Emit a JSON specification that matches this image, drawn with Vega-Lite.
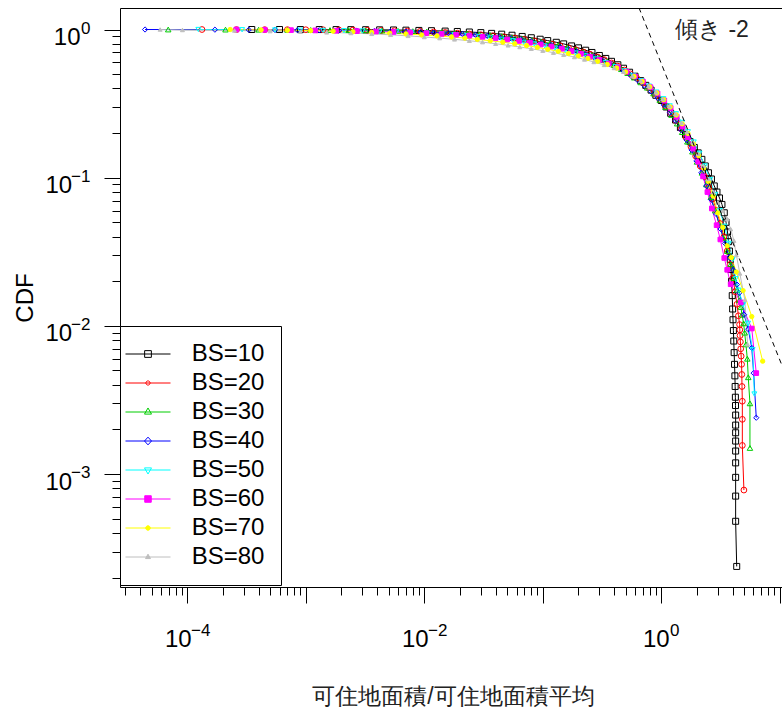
{
"$schema":"https://vega.github.io/schema/vega-lite/v6.json",
"width":662,"height":579,
"autosize":{"type":"none"},
"padding":{"left":120,"top":8,"right":0,"bottom":121},
"background":"white",
"data":{"values":[
{"s":10,"x":3.5e-4,"y":1},{"s":10,"x":6e-4,"y":0.9998},{"s":10,"x":9e-4,"y":0.9996},{"s":10,"x":1.3e-3,"y":0.9993},{"s":10,"x":1.8e-3,"y":0.999},{"s":10,"x":2.4e-3,"y":0.998},{"s":10,"x":3.2e-3,"y":0.997},{"s":10,"x":4.2e-3,"y":0.995},{"s":10,"x":5.5e-3,"y":0.993},{"s":10,"x":7e-3,"y":0.99},{"s":10,"x":9e-3,"y":0.986},{"s":10,"x":0.0115,"y":0.982},{"s":10,"x":0.015,"y":0.976},{"s":10,"x":0.019,"y":0.97},{"s":10,"x":0.024,"y":0.962},{"s":10,"x":0.03,"y":0.953},{"s":10,"x":0.037,"y":0.942},{"s":10,"x":0.045,"y":0.93},{"s":10,"x":0.055,"y":0.915},{"s":10,"x":0.067,"y":0.898},{"s":10,"x":0.08,"y":0.88},{"s":10,"x":0.095,"y":0.86},{"s":10,"x":0.11,"y":0.842},{"s":10,"x":0.13,"y":0.82},{"s":10,"x":0.15,"y":0.8},{"s":10,"x":0.175,"y":0.775},{"s":10,"x":0.2,"y":0.752},{"s":10,"x":0.23,"y":0.725},{"s":10,"x":0.26,"y":0.7},{"s":10,"x":0.3,"y":0.668},{"s":10,"x":0.34,"y":0.638},{"s":10,"x":0.38,"y":0.61},{"s":10,"x":0.43,"y":0.578},{"s":10,"x":0.48,"y":0.548},{"s":10,"x":0.54,"y":0.515},{"s":10,"x":0.6,"y":0.484},{"s":10,"x":0.67,"y":0.452},{"s":10,"x":0.74,"y":0.42},{"s":10,"x":0.82,"y":0.39},{"s":10,"x":0.9,"y":0.36},{"s":10,"x":1.0,"y":0.332},{"s":10,"x":1.1,"y":0.3},{"s":10,"x":1.2,"y":0.272},{"s":10,"x":1.32,"y":0.245},{"s":10,"x":1.45,"y":0.218},{"s":10,"x":1.6,"y":0.195},{"s":10,"x":1.75,"y":0.175},{"s":10,"x":1.9,"y":0.16},{"s":10,"x":2.05,"y":0.147},{"s":10,"x":2.2,"y":0.133},{"s":10,"x":2.35,"y":0.12},{"s":10,"x":2.5,"y":0.108},{"s":10,"x":2.65,"y":0.098},{"s":10,"x":2.8,"y":0.088},{"s":10,"x":2.95,"y":0.08},{"s":10,"x":3.1,"y":0.073},{"s":10,"x":3.25,"y":0.066},{"s":10,"x":3.4,"y":0.058},{"s":10,"x":3.52,"y":0.05},{"s":10,"x":3.62,"y":0.043},{"s":10,"x":3.7,"y":0.037},{"s":10,"x":3.76,"y":0.032},{"s":10,"x":3.82,"y":0.028},{"s":10,"x":3.87,"y":0.024},{"s":10,"x":3.92,"y":0.02},{"s":10,"x":3.97,"y":0.016},{"s":10,"x":4.0,"y":0.013},{"s":10,"x":4.03,"y":0.011},{"s":10,"x":4.06,"y":0.0093},{"s":10,"x":4.09,"y":0.0079},{"s":10,"x":4.12,"y":0.0066},{"s":10,"x":4.15,"y":0.0055},{"s":10,"x":4.18,"y":0.0046},{"s":10,"x":4.2,"y":0.0039},{"s":10,"x":4.22,"y":0.0033},{"s":10,"x":4.23,"y":0.0029},{"s":10,"x":4.24,"y":0.0025},{"s":10,"x":4.24,"y":0.00214},{"s":10,"x":4.24,"y":0.0019},{"s":10,"x":4.24,"y":0.00167},{"s":10,"x":4.24,"y":0.00143},{"s":10,"x":4.24,"y":0.00119},{"s":10,"x":4.24,"y":0.00095},{"s":10,"x":4.24,"y":0.00071},{"s":10,"x":4.24,"y":0.00048},{"s":10,"x":4.33,"y":0.000238},
{"s":20,"x":1.33e-4,"y":1},{"s":20,"x":2.6e-4,"y":0.9992},{"s":20,"x":4.5e-4,"y":0.9985},{"s":20,"x":7e-4,"y":0.998},{"s":20,"x":1.0e-3,"y":0.997},{"s":20,"x":1.4e-3,"y":0.996},{"s":20,"x":1.9e-3,"y":0.994},{"s":20,"x":2.5e-3,"y":0.992},{"s":20,"x":3.3e-3,"y":0.989},{"s":20,"x":4.3e-3,"y":0.986},{"s":20,"x":5.6e-3,"y":0.982},{"s":20,"x":7.2e-3,"y":0.977},{"s":20,"x":9.2e-3,"y":0.971},{"s":20,"x":0.012,"y":0.963},{"s":20,"x":0.015,"y":0.955},{"s":20,"x":0.019,"y":0.945},{"s":20,"x":0.024,"y":0.934},{"s":20,"x":0.03,"y":0.922},{"s":20,"x":0.038,"y":0.908},{"s":20,"x":0.047,"y":0.893},{"s":20,"x":0.058,"y":0.876},{"s":20,"x":0.07,"y":0.858},{"s":20,"x":0.085,"y":0.838},{"s":20,"x":0.1,"y":0.82},{"s":20,"x":0.12,"y":0.797},{"s":20,"x":0.14,"y":0.776},{"s":20,"x":0.165,"y":0.752},{"s":20,"x":0.19,"y":0.73},{"s":20,"x":0.22,"y":0.705},{"s":20,"x":0.25,"y":0.682},{"s":20,"x":0.29,"y":0.653},{"s":20,"x":0.33,"y":0.626},{"s":20,"x":0.38,"y":0.595},{"s":20,"x":0.43,"y":0.566},{"s":20,"x":0.49,"y":0.533},{"s":20,"x":0.55,"y":0.502},{"s":20,"x":0.62,"y":0.47},{"s":20,"x":0.7,"y":0.435},{"s":20,"x":0.78,"y":0.403},{"s":20,"x":0.87,"y":0.37},{"s":20,"x":0.97,"y":0.337},{"s":20,"x":1.08,"y":0.305},{"s":20,"x":1.2,"y":0.274},{"s":20,"x":1.33,"y":0.243},{"s":20,"x":1.47,"y":0.214},{"s":20,"x":1.62,"y":0.187},{"s":20,"x":1.78,"y":0.162},{"s":20,"x":1.95,"y":0.14},{"s":20,"x":2.13,"y":0.12},{"s":20,"x":2.32,"y":0.102},{"s":20,"x":2.52,"y":0.086},{"s":20,"x":2.72,"y":0.072},{"s":20,"x":2.93,"y":0.06},{"s":20,"x":3.15,"y":0.049},{"s":20,"x":3.38,"y":0.04},{"s":20,"x":3.6,"y":0.032},{"s":20,"x":3.82,"y":0.026},{"s":20,"x":4.02,"y":0.021},{"s":20,"x":4.2,"y":0.017},{"s":20,"x":4.35,"y":0.014},{"s":20,"x":4.48,"y":0.0117},{"s":20,"x":4.58,"y":0.0102},{"s":20,"x":4.6,"y":0.0094},{"s":20,"x":4.62,"y":0.0086},{"s":20,"x":4.65,"y":0.0078},{"s":20,"x":4.68,"y":0.007},{"s":20,"x":4.72,"y":0.00625},{"s":20,"x":4.76,"y":0.0055},{"s":20,"x":4.78,"y":0.0047},{"s":20,"x":4.8,"y":0.0039},{"s":20,"x":4.83,"y":0.0031},{"s":20,"x":4.83,"y":0.00234},{"s":20,"x":4.83,"y":0.00156},{"s":20,"x":4.98,"y":0.00078},
{"s":30,"x":6.9e-5,"y":1},{"s":30,"x":2.1e-4,"y":0.9985},{"s":30,"x":4e-4,"y":0.997},{"s":30,"x":7e-4,"y":0.9955},{"s":30,"x":1.1e-3,"y":0.994},{"s":30,"x":1.6e-3,"y":0.992},{"s":30,"x":2.3e-3,"y":0.99},{"s":30,"x":3.2e-3,"y":0.987},{"s":30,"x":4.4e-3,"y":0.984},{"s":30,"x":6e-3,"y":0.98},{"s":30,"x":8e-3,"y":0.975},{"s":30,"x":0.0105,"y":0.969},{"s":30,"x":0.014,"y":0.961},{"s":30,"x":0.018,"y":0.952},{"s":30,"x":0.023,"y":0.942},{"s":30,"x":0.029,"y":0.93},{"s":30,"x":0.036,"y":0.917},{"s":30,"x":0.045,"y":0.902},{"s":30,"x":0.055,"y":0.886},{"s":30,"x":0.067,"y":0.868},{"s":30,"x":0.081,"y":0.849},{"s":30,"x":0.097,"y":0.828},{"s":30,"x":0.115,"y":0.806},{"s":30,"x":0.135,"y":0.784},{"s":30,"x":0.16,"y":0.758},{"s":30,"x":0.19,"y":0.73},{"s":30,"x":0.22,"y":0.704},{"s":30,"x":0.26,"y":0.672},{"s":30,"x":0.3,"y":0.642},{"s":30,"x":0.35,"y":0.608},{"s":30,"x":0.4,"y":0.576},{"s":30,"x":0.46,"y":0.54},{"s":30,"x":0.52,"y":0.508},{"s":30,"x":0.59,"y":0.474},{"s":30,"x":0.67,"y":0.44},{"s":30,"x":0.76,"y":0.405},{"s":30,"x":0.86,"y":0.37},{"s":30,"x":0.97,"y":0.335},{"s":30,"x":1.09,"y":0.3},{"s":30,"x":1.22,"y":0.265},{"s":30,"x":1.36,"y":0.232},{"s":30,"x":1.5,"y":0.203},{"s":30,"x":1.66,"y":0.175},{"s":30,"x":1.83,"y":0.15},{"s":30,"x":2.0,"y":0.128},{"s":30,"x":2.2,"y":0.108},{"s":30,"x":2.4,"y":0.09},{"s":30,"x":2.62,"y":0.074},{"s":30,"x":2.85,"y":0.06},{"s":30,"x":3.1,"y":0.048},{"s":30,"x":3.35,"y":0.039},{"s":30,"x":3.6,"y":0.032},{"s":30,"x":3.85,"y":0.026},{"s":30,"x":4.1,"y":0.021},{"s":30,"x":4.35,"y":0.0175},{"s":30,"x":4.55,"y":0.0149},{"s":30,"x":4.7,"y":0.0134},{"s":30,"x":4.8,"y":0.0119},{"s":30,"x":4.95,"y":0.0104},{"s":30,"x":5.05,"y":0.009},{"s":30,"x":5.18,"y":0.0075},{"s":30,"x":5.32,"y":0.006},{"s":30,"x":5.42,"y":0.0045},{"s":30,"x":5.6,"y":0.003},{"s":30,"x":5.6,"y":0.0015},
{"s":40,"x":4.4e-5,"y":1},{"s":40,"x":1.71e-4,"y":0.9976},{"s":40,"x":3.3e-4,"y":0.995},{"s":40,"x":5.5e-4,"y":0.993},{"s":40,"x":8.5e-4,"y":0.991},{"s":40,"x":1.3e-3,"y":0.988},{"s":40,"x":1.9e-3,"y":0.985},{"s":40,"x":2.7e-3,"y":0.982},{"s":40,"x":3.8e-3,"y":0.978},{"s":40,"x":5.2e-3,"y":0.973},{"s":40,"x":7e-3,"y":0.968},{"s":40,"x":9.3e-3,"y":0.961},{"s":40,"x":0.012,"y":0.953},{"s":40,"x":0.016,"y":0.943},{"s":40,"x":0.021,"y":0.932},{"s":40,"x":0.027,"y":0.92},{"s":40,"x":0.034,"y":0.906},{"s":40,"x":0.043,"y":0.89},{"s":40,"x":0.054,"y":0.872},{"s":40,"x":0.066,"y":0.853},{"s":40,"x":0.08,"y":0.833},{"s":40,"x":0.097,"y":0.81},{"s":40,"x":0.117,"y":0.786},{"s":40,"x":0.14,"y":0.762},{"s":40,"x":0.165,"y":0.738},{"s":40,"x":0.195,"y":0.711},{"s":40,"x":0.23,"y":0.683},{"s":40,"x":0.27,"y":0.653},{"s":40,"x":0.315,"y":0.622},{"s":40,"x":0.365,"y":0.59},{"s":40,"x":0.42,"y":0.558},{"s":40,"x":0.48,"y":0.525},{"s":40,"x":0.55,"y":0.49},{"s":40,"x":0.63,"y":0.455},{"s":40,"x":0.72,"y":0.418},{"s":40,"x":0.82,"y":0.382},{"s":40,"x":0.93,"y":0.345},{"s":40,"x":1.05,"y":0.31},{"s":40,"x":1.18,"y":0.275},{"s":40,"x":1.32,"y":0.242},{"s":40,"x":1.47,"y":0.21},{"s":40,"x":1.63,"y":0.18},{"s":40,"x":1.8,"y":0.154},{"s":40,"x":1.98,"y":0.13},{"s":40,"x":2.18,"y":0.108},{"s":40,"x":2.4,"y":0.088},{"s":40,"x":2.64,"y":0.071},{"s":40,"x":2.9,"y":0.057},{"s":40,"x":3.17,"y":0.045},{"s":40,"x":3.45,"y":0.036},{"s":40,"x":3.75,"y":0.029},{"s":40,"x":4.05,"y":0.0238},{"s":40,"x":4.35,"y":0.019},{"s":40,"x":4.55,"y":0.0167},{"s":40,"x":4.8,"y":0.0143},{"s":40,"x":5.0,"y":0.0119},{"s":40,"x":5.42,"y":0.0095},{"s":40,"x":5.8,"y":0.0071},{"s":40,"x":6.02,"y":0.0048},{"s":40,"x":6.33,"y":0.0024},
{"s":50,"x":1.24e-4,"y":1},{"s":50,"x":2.9e-4,"y":0.9965},{"s":50,"x":5.5e-4,"y":0.993},{"s":50,"x":9e-4,"y":0.99},{"s":50,"x":1.4e-3,"y":0.986},{"s":50,"x":2.1e-3,"y":0.982},{"s":50,"x":3e-3,"y":0.977},{"s":50,"x":4.2e-3,"y":0.971},{"s":50,"x":5.8e-3,"y":0.964},{"s":50,"x":7.8e-3,"y":0.956},{"s":50,"x":0.0105,"y":0.946},{"s":50,"x":0.014,"y":0.935},{"s":50,"x":0.018,"y":0.922},{"s":50,"x":0.023,"y":0.908},{"s":50,"x":0.029,"y":0.893},{"s":50,"x":0.036,"y":0.877},{"s":50,"x":0.045,"y":0.859},{"s":50,"x":0.056,"y":0.84},{"s":50,"x":0.069,"y":0.82},{"s":50,"x":0.085,"y":0.798},{"s":50,"x":0.104,"y":0.775},{"s":50,"x":0.127,"y":0.75},{"s":50,"x":0.155,"y":0.723},{"s":50,"x":0.19,"y":0.694},{"s":50,"x":0.23,"y":0.664},{"s":50,"x":0.28,"y":0.632},{"s":50,"x":0.34,"y":0.598},{"s":50,"x":0.41,"y":0.562},{"s":50,"x":0.49,"y":0.526},{"s":50,"x":0.58,"y":0.49},{"s":50,"x":0.68,"y":0.452},{"s":50,"x":0.79,"y":0.415},{"s":50,"x":0.91,"y":0.378},{"s":50,"x":1.04,"y":0.341},{"s":50,"x":1.18,"y":0.305},{"s":50,"x":1.33,"y":0.27},{"s":50,"x":1.5,"y":0.236},{"s":50,"x":1.68,"y":0.204},{"s":50,"x":1.88,"y":0.174},{"s":50,"x":2.1,"y":0.146},{"s":50,"x":2.33,"y":0.12},{"s":50,"x":2.58,"y":0.097},{"s":50,"x":2.85,"y":0.077},{"s":50,"x":3.13,"y":0.06},{"s":50,"x":3.42,"y":0.047},{"s":50,"x":3.72,"y":0.036},{"s":50,"x":4.0,"y":0.028},{"s":50,"x":4.25,"y":0.0208},{"s":50,"x":4.5,"y":0.0174},{"s":50,"x":4.9,"y":0.0139},{"s":50,"x":5.4,"y":0.0104},{"s":50,"x":5.9,"y":0.0069},{"s":50,"x":6.1,"y":0.00347},
{"s":60,"x":2.6e-4,"y":1},{"s":60,"x":4.5e-4,"y":0.9952},{"s":60,"x":7.5e-4,"y":0.9904},{"s":60,"x":1.2e-3,"y":0.986},{"s":60,"x":1.8e-3,"y":0.981},{"s":60,"x":2.7e-3,"y":0.976},{"s":60,"x":3.9e-3,"y":0.97},{"s":60,"x":5.5e-3,"y":0.963},{"s":60,"x":7.6e-3,"y":0.955},{"s":60,"x":0.0104,"y":0.945},{"s":60,"x":0.014,"y":0.934},{"s":60,"x":0.0185,"y":0.922},{"s":60,"x":0.024,"y":0.908},{"s":60,"x":0.031,"y":0.893},{"s":60,"x":0.04,"y":0.876},{"s":60,"x":0.05,"y":0.857},{"s":60,"x":0.063,"y":0.837},{"s":60,"x":0.078,"y":0.815},{"s":60,"x":0.096,"y":0.792},{"s":60,"x":0.118,"y":0.768},{"s":60,"x":0.145,"y":0.742},{"s":60,"x":0.175,"y":0.715},{"s":60,"x":0.21,"y":0.686},{"s":60,"x":0.25,"y":0.656},{"s":60,"x":0.3,"y":0.624},{"s":60,"x":0.36,"y":0.59},{"s":60,"x":0.43,"y":0.555},{"s":60,"x":0.51,"y":0.519},{"s":60,"x":0.6,"y":0.482},{"s":60,"x":0.7,"y":0.445},{"s":60,"x":0.81,"y":0.408},{"s":60,"x":0.93,"y":0.37},{"s":60,"x":1.06,"y":0.332},{"s":60,"x":1.2,"y":0.295},{"s":60,"x":1.35,"y":0.258},{"s":60,"x":1.51,"y":0.222},{"s":60,"x":1.68,"y":0.188},{"s":60,"x":1.86,"y":0.157},{"s":60,"x":2.05,"y":0.128},{"s":60,"x":2.25,"y":0.102},{"s":60,"x":2.45,"y":0.08},{"s":60,"x":2.67,"y":0.062},{"s":60,"x":2.93,"y":0.0478},{"s":60,"x":3.15,"y":0.0383},{"s":60,"x":3.4,"y":0.0287},{"s":60,"x":3.6,"y":0.0239},{"s":60,"x":3.85,"y":0.0191},{"s":60,"x":4.68,"y":0.0144},{"s":60,"x":5.8,"y":0.0096},{"s":60,"x":6.33,"y":0.0048},
{"s":70,"x":2.3e-4,"y":1},{"s":70,"x":4.2e-4,"y":0.9942},{"s":70,"x":7e-4,"y":0.9884},{"s":70,"x":1.1e-3,"y":0.983},{"s":70,"x":1.7e-3,"y":0.975},{"s":70,"x":2.5e-3,"y":0.966},{"s":70,"x":3.6e-3,"y":0.956},{"s":70,"x":5.1e-3,"y":0.945},{"s":70,"x":7e-3,"y":0.933},{"s":70,"x":9.5e-3,"y":0.92},{"s":70,"x":0.0128,"y":0.906},{"s":70,"x":0.017,"y":0.891},{"s":70,"x":0.022,"y":0.875},{"s":70,"x":0.028,"y":0.858},{"s":70,"x":0.036,"y":0.84},{"s":70,"x":0.046,"y":0.821},{"s":70,"x":0.058,"y":0.801},{"s":70,"x":0.073,"y":0.78},{"s":70,"x":0.09,"y":0.758},{"s":70,"x":0.11,"y":0.736},{"s":70,"x":0.135,"y":0.713},{"s":70,"x":0.165,"y":0.689},{"s":70,"x":0.2,"y":0.664},{"s":70,"x":0.24,"y":0.638},{"s":70,"x":0.29,"y":0.61},{"s":70,"x":0.35,"y":0.581},{"s":70,"x":0.42,"y":0.55},{"s":70,"x":0.5,"y":0.517},{"s":70,"x":0.59,"y":0.482},{"s":70,"x":0.69,"y":0.446},{"s":70,"x":0.8,"y":0.41},{"s":70,"x":0.92,"y":0.373},{"s":70,"x":1.05,"y":0.336},{"s":70,"x":1.19,"y":0.3},{"s":70,"x":1.34,"y":0.265},{"s":70,"x":1.5,"y":0.231},{"s":70,"x":1.68,"y":0.199},{"s":70,"x":1.87,"y":0.169},{"s":70,"x":2.07,"y":0.141},{"s":70,"x":2.28,"y":0.116},{"s":70,"x":2.5,"y":0.094},{"s":70,"x":2.74,"y":0.075},{"s":70,"x":3.0,"y":0.0578},{"s":70,"x":3.3,"y":0.0462},{"s":70,"x":3.6,"y":0.0347},{"s":70,"x":3.9,"y":0.0289},{"s":70,"x":4.3,"y":0.0231},{"s":70,"x":4.9,"y":0.0173},{"s":70,"x":5.8,"y":0.01156},{"s":70,"x":7.17,"y":0.00578},
{"s":80,"x":5.9e-5,"y":1},{"s":80,"x":9.1e-5,"y":0.9925},{"s":80,"x":2.5e-4,"y":0.985},{"s":80,"x":5e-4,"y":0.976},{"s":80,"x":9e-4,"y":0.966},{"s":80,"x":1.5e-3,"y":0.957},{"s":80,"x":2.4e-3,"y":0.947},{"s":80,"x":3.6e-3,"y":0.935},{"s":80,"x":5.2e-3,"y":0.921},{"s":80,"x":7.3e-3,"y":0.906},{"s":80,"x":0.01,"y":0.89},{"s":80,"x":0.0135,"y":0.875},{"s":80,"x":0.018,"y":0.858},{"s":80,"x":0.024,"y":0.84},{"s":80,"x":0.031,"y":0.822},{"s":80,"x":0.04,"y":0.802},{"s":80,"x":0.051,"y":0.782},{"s":80,"x":0.064,"y":0.762},{"s":80,"x":0.08,"y":0.742},{"s":80,"x":0.1,"y":0.72},{"s":80,"x":0.123,"y":0.698},{"s":80,"x":0.15,"y":0.676},{"s":80,"x":0.185,"y":0.652},{"s":80,"x":0.225,"y":0.628},{"s":80,"x":0.27,"y":0.604},{"s":80,"x":0.33,"y":0.577},{"s":80,"x":0.4,"y":0.55},{"s":80,"x":0.48,"y":0.519},{"s":80,"x":0.57,"y":0.485},{"s":80,"x":0.67,"y":0.45},{"s":80,"x":0.78,"y":0.414},{"s":80,"x":0.9,"y":0.377},{"s":80,"x":1.03,"y":0.34},{"s":80,"x":1.17,"y":0.304},{"s":80,"x":1.32,"y":0.269},{"s":80,"x":1.48,"y":0.235},{"s":80,"x":1.65,"y":0.203},{"s":80,"x":1.84,"y":0.173},{"s":80,"x":2.04,"y":0.145},{"s":80,"x":2.26,"y":0.12},{"s":80,"x":2.5,"y":0.098},{"s":80,"x":2.75,"y":0.08},{"s":80,"x":3.0,"y":0.068},{"s":80,"x":3.3,"y":0.06},{"s":80,"x":3.6,"y":0.0526},{"s":80,"x":3.85,"y":0.045},{"s":80,"x":4.1,"y":0.0376},{"s":80,"x":4.3,"y":0.0301},{"s":80,"x":4.6,"y":0.0226},{"s":80,"x":5.07,"y":0.015},{"s":80,"x":5.35,"y":0.0075}
]},
"layer":[
{"mark":{"type":"line","strokeWidth":1,"clip":true},
 "encoding":{
  "x":{"field":"x","type":"quantitative","scale":{"type":"log","domain":[2.704e-5,10.44],"nice":false},
   "axis":{"orient":"bottom","values":[1e-4,1e-3,1e-2,0.1,1,10],"tickSize":16,"domain":true,"labelFontSize":24,"labelAlign":"center","labelBaseline":"middle","labelPadding":36,"labelOffset":-9.5,
    "labelExpr":"abs(log(datum.value)/LN10+4)<0.01||abs(log(datum.value)/LN10+2)<0.01 ? '10' : ''",
    "title":"可住地面積/可住地面積平均","titleFontSize":23,"titleFontWeight":"normal","titleColor":"#222222","titleX":333,"titleY":109,"titleAlign":"center","titleBaseline":"middle","titleAngle":0}},
  "y":{"field":"y","type":"quantitative","scale":{"type":"log","domain":[1.729e-4,1.397],"nice":false},
   "axis":{"orient":"left","values":[1e-3,1e-2,0.1,1],"tickSize":16,"domain":true,"labelFontSize":24,"labelAlign":"right","labelBaseline":"middle","labelPadding":32.3,"labelOffset":8,
    "labelExpr":"datum.value > 0.5 ? '' : '10'",
    "title":"CDF","titleFontSize":24,"titleFontWeight":"normal","titleColor":"black","titleX":-88,"titleY":289.5,"titleAngle":270,"titleAlign":"center","titleBaseline":"alphabetic"}},
  "stroke":{"field":"s","type":"nominal","scale":{"domain":[10,20,30,40,50,60,70,80],"range":["#000000","#FF0000","#00CD00","#0000FF","#00FFFF","#FF00FF","#FFFF00","#BEBEBE"]},"legend":null},
  "order":{"field":"y","sort":"descending"}
 }},
{"mark":{"type":"point","opacity":1,"strokeWidth":1,"clip":true},
 "encoding":{
  "x":{"field":"x","type":"quantitative","scale":{"type":"log"},
   "axis":{"orient":"bottom","values":[3e-5,4e-5,5e-5,6e-5,7e-5,8e-5,9e-5,2e-4,3e-4,4e-4,5e-4,6e-4,7e-4,8e-4,9e-4,2e-3,3e-3,4e-3,5e-3,6e-3,7e-3,8e-3,9e-3,0.02,0.03,0.04,0.05,0.06,0.07,0.08,0.09,0.2,0.3,0.4,0.5,0.6,0.7,0.8,0.9,2,3,4,5,6,7,8,9],"tickSize":8,"labels":false,"domain":false,"title":null}},
  "y":{"field":"y","type":"quantitative","scale":{"type":"log"},
   "axis":{"orient":"left","values":[2e-4,3e-4,4e-4,5e-4,6e-4,7e-4,8e-4,9e-4,2e-3,3e-3,4e-3,5e-3,6e-3,7e-3,8e-3,9e-3,0.02,0.03,0.04,0.05,0.06,0.07,0.08,0.09,0.2,0.3,0.4,0.5,0.6,0.7,0.8,0.9],"tickSize":8,"labels":false,"domain":false,"title":null}},
  "stroke":{"field":"s","type":"nominal","scale":{"domain":[10,20,30,40,50,60,70,80],"range":["#000000","#FF0000","#00CD00","#0000FF","#00FFFF","#FF00FF","#FFFF00","#BEBEBE"]},"legend":null},
  "fill":{"field":"s","type":"nominal","scale":{"domain":[10,20,30,40,50,60,70,80],"range":["transparent","transparent","transparent","transparent","transparent","#FF00FF","#FFFF00","#BEBEBE"]},"legend":null},
  "shape":{"field":"s","type":"nominal","scale":{"domain":[10,20,30,40,50,60,70,80],"range":["square","circle","triangle-up","diamond","triangle-down","square","circle","triangle-up"]},"legend":null},
  "size":{"field":"s","type":"ordinal","scale":{"domain":[10,20,30,40,50,60,70,80],"range":[36,16,49,56,42,36,25,36]},"legend":null}
 }},
{"data":{"values":[{"x":0.5,"y":2.356},{"x":12,"y":0.00409}]},
 "mark":{"type":"line","clip":true,"stroke":"black","strokeWidth":1,"strokeDash":[5,4]},
 "encoding":{
  "x":{"field":"x","type":"quantitative","scale":{"type":"log"},
   "axis":{"orient":"bottom","values":[1e-4,1e-2,1],"ticks":false,"tickSize":0,"domain":false,"title":null,"labelFontSize":17,"labelAlign":"center","labelBaseline":"middle","labelPadding":43.5,"labelOffset":13,
    "labelExpr":"abs(log(datum.value)/LN10+4)<0.01 ? '\u22124' : abs(log(datum.value)/LN10+2)<0.01 ? '\u22122' : '0'"}},
  "y":{"field":"y","type":"quantitative","scale":{"type":"log"},
   "axis":{"orient":"left","values":[1e-3,1e-2,0.1,1],"ticks":false,"tickSize":0,"domain":false,"title":null,"labelFontSize":17,"labelAlign":"right","labelBaseline":"middle","labelPadding":30,"labelOffset":-1.5,
    "labelExpr":"datum.value > 0.5 ? '0' : datum.value > 0.05 ? '\u22121' : datum.value > 0.005 ? '\u22122' : '\u22123'"}}
 }},
{"data":{"values":[{"x":1.305,"y":0.988,"t":"傾き -2"}]},
 "mark":{"type":"text","align":"left","baseline":"middle","fontSize":23,"font":"Liberation Sans","color":"#222222"},
 "encoding":{
  "x":{"field":"x","type":"quantitative","scale":{"type":"log"},
   "axis":{"orient":"top","ticks":false,"labels":false,"domain":true,"title":null}},
  "y":{"field":"y","type":"quantitative","scale":{"type":"log"},"axis":null},
  "text":{"field":"t"}
 }},
{"transform":[{"filter":"false"}],
 "mark":{"type":"point","size":49,"opacity":1,"strokeWidth":1},
 "encoding":{
  "x":{"field":"x","type":"quantitative","scale":{"type":"log"},
   "axis":{"orient":"bottom","values":[1],"ticks":false,"tickSize":0,"domain":false,"title":null,"labelFontSize":24,"labelAlign":"center","labelBaseline":"middle","labelPadding":52,"labelOffset":-5.5,"labelExpr":"'10'"}},
  "y":{"field":"y","type":"quantitative","scale":{"type":"log"},
   "axis":{"orient":"left","values":[1],"ticks":false,"tickSize":0,"domain":false,"title":null,"labelFontSize":24,"labelAlign":"right","labelBaseline":"middle","labelPadding":40,"labelOffset":8,"labelExpr":"'10'"}},
  "stroke":{"field":"s","type":"nominal","scale":{"domain":[10,20,30,40,50,60,70,80],"range":["#000000","#FF0000","#00CD00","#0000FF","#00FFFF","#FF00FF","#FFFF00","#BEBEBE"]},"legend":{"title":null,"labelExpr":"'BS=' + datum.label"}},
  "fill":{"field":"s","type":"nominal","scale":{"domain":[10,20,30,40,50,60,70,80],"range":["transparent","transparent","transparent","transparent","transparent","#FF00FF","#FFFF00","#BEBEBE"]},"legend":{"title":null,"labelExpr":"'BS=' + datum.label"}},
  "shape":{"field":"s","type":"nominal","scale":{"domain":[10,20,30,40,50,60,70,80],"range":[
   "M-6.43,0H6.43M-0.96,-0.96H0.96V0.96H-0.96Z",
   "M-6.43,0H6.43M-0.6,0A0.6,0.6,0,1,0,0.6,0A0.6,0.6,0,1,0,-0.6,0Z",
   "M-6.43,0H6.43M0,-1.15L1,0.6H-1Z",
   "M-6.43,0H6.43M0,-1.1L1,0L0,1.1L-1,0Z",
   "M-6.43,0H6.43M0,1.15L1,-0.6H-1Z",
   "M-6.43,0H6.43M-0.93,-0.93H0.93V0.93H-0.93Z",
   "M-6.43,0H6.43M-0.65,0A0.65,0.65,0,1,0,0.65,0A0.65,0.65,0,1,0,-0.65,0Z",
   "M-6.43,0H6.43M0,-0.8L0.71,0.45H-0.71Z"]},"legend":{"title":null,"labelExpr":"'BS=' + datum.label"}}
 }}
],
"resolve":{"axis":{"x":"independent","y":"independent"},"scale":{"stroke":"independent","fill":"independent","shape":"independent","size":"independent"}},
"config":{
 "view":{"stroke":null},
 "axis":{"grid":false,"domainColor":"black","domainWidth":1,"tickColor":"black","tickWidth":1,"labelColor":"black","labelFont":"Liberation Sans","titleFont":"Liberation Sans","labelFlush":false,"labelOverlap":false,"labelBound":false,"labelLimit":300},
 "legend":{"orient":"none","legendX":0,"legendY":318,"padding":16,"strokeColor":"black","fillColor":"white","cornerRadius":0,"labelFont":"Liberation Sans","labelFontSize":24,"labelColor":"black","labelOffset":31.7,"rowPadding":5,"symbolSize":49,"symbolStrokeWidth":1,"labelLimit":300}
}
}
